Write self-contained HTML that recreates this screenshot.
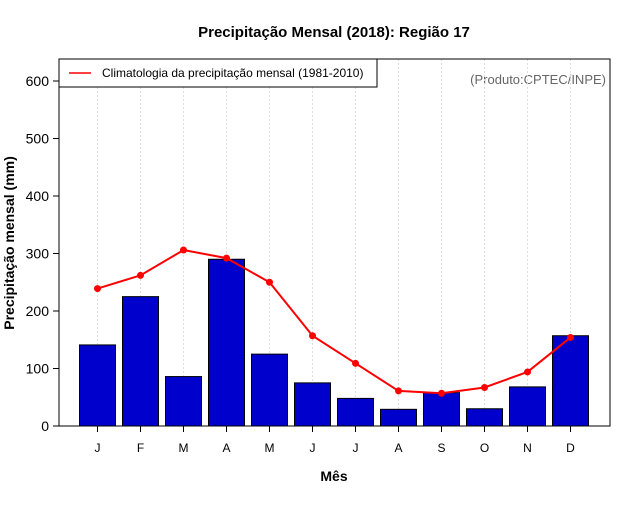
<!DOCTYPE html>
<html><head><meta charset="utf-8"><style>
body{margin:0;background:#fff}
svg text{font-family:"Liberation Sans",sans-serif}
</style></head><body>
<svg id="c" width="640" height="500">
<text x="334" y="37" text-anchor="middle" font-size="15" font-weight="bold">Precipitação Mensal (2018): Região 17</text>
<text x="334" y="481" text-anchor="middle" font-size="14" font-weight="bold">Mês</text>
<text transform="translate(14,243) rotate(-90)" text-anchor="middle" font-size="14" font-weight="bold">Precipitação mensal (mm)</text>
<text x="606" y="84" text-anchor="end" font-size="13" fill="#666">(Produto:CPTEC/INPE)</text>
<g id="grid"></g><g id="bars"></g><g id="line"></g><g id="axes"></g>
<rect x="59" y="59" width="318" height="28" fill="#fff" stroke="#000" stroke-width="1"/>
<line x1="69" y1="73" x2="91" y2="73" stroke="red" stroke-width="1.5"/>
<text x="102" y="77" font-size="12">Climatologia da precipitação mensal (1981-2010)</text>
</svg>
<script>
const months=["J","F","M","A","M","J","J","A","S","O","N","D"];
const precip2018=[141,225,86,290,125,75,48,29,58,30,68,157];
const climatology=[239,262,306,292,250,157,109,61,57,67,94,154];
const yTicks=[0,100,200,300,400,500,600];
const NS="http://www.w3.org/2000/svg";
const L=59,R=610,T=59,B=426;
const xs=i=>97.5+i*43;
const ys=v=>B-v*0.575;
function mk(p,t,a){const e=document.createElementNS(NS,t);for(const k in a)e.setAttribute(k,a[k]);document.getElementById(p).appendChild(e);return e;}
months.forEach((m,i)=>{
 const g=mk("grid","line",{x1:xs(i),x2:xs(i),y1:T,y2:B,stroke:"#ddd","stroke-dasharray":"2,2"});
 
 
 const b=mk("bars","rect",{x:xs(i)-18,y:ys(precip2018[i]),width:36,height:B-ys(precip2018[i]),fill:"#0000cd",stroke:"#000","stroke-width":1});
 
 
 const tk=mk("axes","line",{x1:xs(i),x2:xs(i),y1:B,y2:B+6,stroke:"#000"});
 
 
 const t=mk("axes","text",{x:xs(i),y:452,"text-anchor":"middle","font-size":12});
 t.textContent=m;
 
 
});
const pl=mk("line","polyline",{points:climatology.map((v,i)=>xs(i)+","+ys(v)).join(" "),fill:"none",stroke:"red","stroke-width":2});


climatology.forEach((v,i)=>{
 const c=mk("line","circle",{cx:xs(i),cy:ys(v),r:3.5,fill:"red"});
 
 
});
yTicks.forEach(v=>{
 const tk=mk("axes","line",{x1:L-6,x2:L,y1:ys(v),y2:ys(v),stroke:"#000"});
 
 
 const t=mk("axes","text",{x:L-10,y:ys(v)+5,"text-anchor":"end","font-size":14});
 t.textContent=v;
 
 
});
const box=mk("axes","rect",{x:L,y:T,width:R-L,height:B-T,fill:"none",stroke:"#000"});


</script>
</body></html>
